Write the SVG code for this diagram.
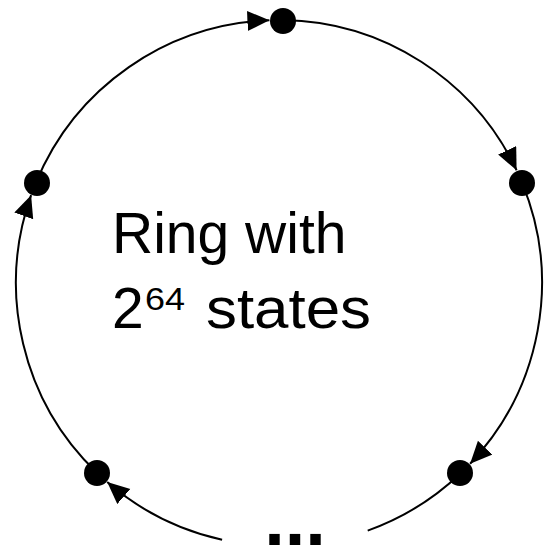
<svg xmlns="http://www.w3.org/2000/svg" width="549" height="549" viewBox="0 0 549 549">
<style>
.arc{fill:none;stroke:#000;stroke-width:2}
.dot{fill:#000}
.lbl{font-family:"Liberation Sans",Arial,sans-serif;fill:#000}
</style>
<defs>
<marker id="arr" markerUnits="userSpaceOnUse" markerWidth="24" markerHeight="22" refX="22" refY="10" orient="auto">
<path d="M0,0 L22,10 L0,20 z" fill="#000"/>
</marker>
</defs>
<rect width="549" height="549" fill="#fff"/>
<g id="connectors">
<path class="arc" d="M222.1,539.8 A263,263 0 0 1 107.2,482.1" marker-end="url(#arr)"/>
<path class="arc" d="M97,472.8 A263,263 0 0 1 31.1,195.2" marker-end="url(#arr)"/>
<path class="arc" d="M36,182.4 A263,263 0 0 1 269.4,20.2" marker-end="url(#arr)"/>
<path class="arc" d="M283.1,20 A263,263 0 0 1 516.6,170.2" marker-end="url(#arr)"/>
<path class="arc" d="M522.1,182.8 A263,263 0 0 1 470.1,463.7" marker-end="url(#arr)"/>
<path class="arc" d="M460.4,473.5 A263,263 0 0 1 367.7,530.6"/>
</g>
<g id="node-top"><circle class="dot" cx="283" cy="21" r="13"/></g>
<g id="node-right"><circle class="dot" cx="522" cy="183" r="13"/></g>
<g id="node-bottom-right"><circle class="dot" cx="460" cy="473" r="13"/></g>
<g id="node-bottom-left"><circle class="dot" cx="97" cy="473" r="13"/></g>
<g id="node-left"><circle class="dot" cx="37" cy="183" r="13"/></g>
<g id="label">
<text class="lbl" x="112" y="253" font-size="57">Ring with</text>
<text class="lbl" x="112" y="328" font-size="57">2</text>
<text class="lbl" x="145" y="310" font-size="32" textLength="40" lengthAdjust="spacingAndGlyphs">64</text>
<text class="lbl" x="206" y="328" font-size="57" textLength="165" lengthAdjust="spacingAndGlyphs">states</text>
</g>
<g id="ellipsis">
<text class="lbl" x="295" y="545" font-size="74" font-weight="bold" text-anchor="middle">...</text>
</g>
</svg>
